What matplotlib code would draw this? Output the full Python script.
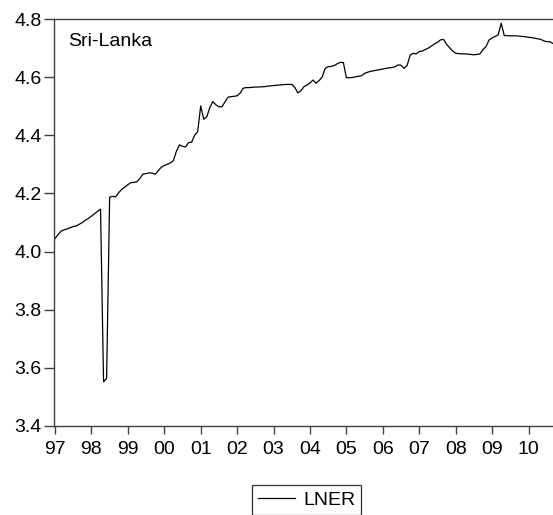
import matplotlib
matplotlib.use("Agg")
import matplotlib.pyplot as plt
import numpy as np

plt.rcParams['font.family'] = ['Liberation Sans', 'DejaVu Sans']

start_year = 1997
series_name = "LNER"
panel_title = "Sri-Lanka"
lner = [
    4.045, 4.058, 4.070, 4.075, 4.078, 4.082, 4.086, 4.088, 4.094, 4.100,
    4.108, 4.114, 4.122, 4.130, 4.138, 4.146, 3.552, 3.564, 4.187, 4.190,
    4.188, 4.203, 4.214, 4.222, 4.230, 4.237, 4.238, 4.240, 4.252, 4.267,
    4.268, 4.271, 4.270, 4.266, 4.278, 4.290, 4.296, 4.300, 4.305, 4.313,
    4.345, 4.367, 4.362, 4.360, 4.375, 4.376, 4.400, 4.412, 4.501, 4.455,
    4.464, 4.495, 4.516, 4.505, 4.498, 4.498, 4.515, 4.531, 4.533, 4.534,
    4.536, 4.545, 4.562, 4.564, 4.564, 4.565, 4.566, 4.566, 4.567, 4.567,
    4.569, 4.570, 4.571, 4.572, 4.573, 4.574, 4.575, 4.575, 4.575, 4.565,
    4.546, 4.553, 4.567, 4.573, 4.580, 4.590, 4.579, 4.588, 4.600, 4.630,
    4.636, 4.637, 4.640, 4.646, 4.651, 4.650, 4.598, 4.598, 4.599, 4.601,
    4.603, 4.605, 4.613, 4.617, 4.620, 4.622, 4.624, 4.626, 4.628, 4.630,
    4.632, 4.633, 4.636, 4.642, 4.641, 4.630, 4.640, 4.676, 4.682, 4.680,
    4.688, 4.690, 4.695, 4.700, 4.707, 4.714, 4.720, 4.728, 4.730, 4.713,
    4.701, 4.690, 4.682, 4.681, 4.680, 4.680, 4.679, 4.678, 4.677, 4.678,
    4.680, 4.695, 4.705, 4.728, 4.735, 4.740, 4.745, 4.785, 4.743, 4.743,
    4.742, 4.742, 4.742, 4.741, 4.740, 4.739, 4.737, 4.736, 4.734, 4.732,
    4.730, 4.725, 4.722, 4.722, 4.716,
]
year_ticks = list(range(1997, 2011))
year_labels = ["97", "98", "99", "00", "01", "02", "03", "04", "05", "06",
               "07", "08", "09", "10"]
y_ticks = [3.4, 3.6, 3.8, 4.0, 4.2, 4.4, 4.6, 4.8]
y_labels = ["3.4", "3.6", "3.8", "4.0", "4.2", "4.4", "4.6", "4.8"]

x = start_year + np.arange(len(lner)) / 12.0

FS = 14

fig = plt.figure(figsize=(5.53, 5.15), dpi=100)
ax = fig.add_axes([54/553, 1-426/515, 1-54/553, (426-19)/515])
line, = ax.plot(x, lner, color='black', lw=0.9, label=series_name)

ax.set_xlim(start_year - 1/36.4, x[-1] + 0.005)
ax.set_ylim(3.4, 4.8)
ax.set_xticks(year_ticks)
ax.set_xticklabels(year_labels)
ax.set_yticks(y_ticks)
ax.set_yticklabels(y_labels)
ax.tick_params(axis='x', direction='out', length=6, width=1, color='#404040',
               labelsize=FS, pad=5)
ax.tick_params(axis='y', direction='out', length=7, width=1, color='#404040',
               labelsize=FS, pad=2)
for s in ['left', 'bottom', 'top']:
    ax.spines[s].set_color('#404040')
    ax.spines[s].set_linewidth(1)
ax.spines['right'].set_visible(False)

fig.text(68/553, 1-42/515, panel_title, fontsize=FS, va='center', ha='left')

leg = fig.legend(handles=[line], loc='center',
                 bbox_to_anchor=(306.5/553, 1-500/515),
                 frameon=True, fancybox=False, fontsize=FS,
                 handlelength=1.9, handletextpad=0.45, borderpad=0.3,
                 borderaxespad=0)
leg.get_frame().set_edgecolor('black')
leg.get_frame().set_linewidth(0.9)

fig.savefig('out.png', dpi=100)
